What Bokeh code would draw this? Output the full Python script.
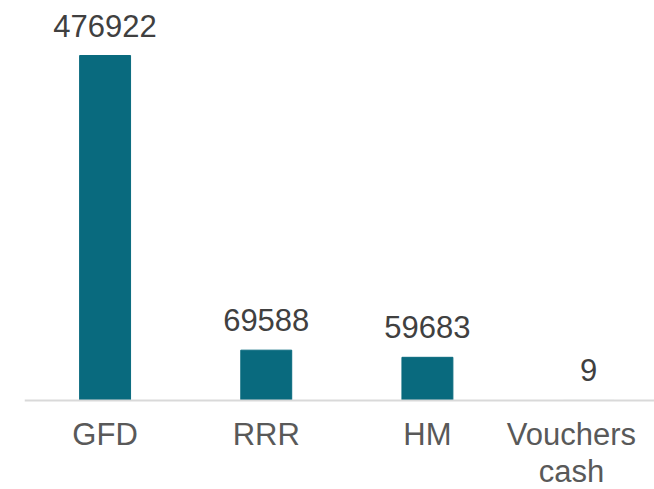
from bokeh.plotting import figure
from bokeh.models import Range1d, ColumnDataSource, LabelSet, FixedTicker
from bokeh.core.properties import value
from bokeh.embed import file_html
from bokeh.resources import INLINE

categories = ["GFD", "RRR", "HM", "Vouchers\ncash"]
values = [476922, 69588, 59683, 9]
labels = ["476922", "69588", "59683", "9"]

xs = list(range(len(categories)))
src = ColumnDataSource(dict(x=xs, top=values, lab=labels))

# tick positions: last label nudged left to stay inside the chart area
tick_pos = [float(x) for x in xs]
tick_pos[-1] -= 0.106

p = figure(width=654, height=489, output_backend="svg", toolbar_location=None,
           x_range=Range1d(-0.5, 3.409), y_range=Range1d(-123034, 552960),
           min_border_left=24, min_border_right=0, min_border_top=0, min_border_bottom=0)
p.vbar(x="x", top="top", width=0.316, bottom=0, source=src,
       fill_color="#096A7E", line_color="#096A7E")

lbl = LabelSet(x="x", y="top", text="lab", source=src, y_offset=19,
               text_align="center", text_baseline="alphabetic",
               text_font=value("Liberation Sans"), text_font_size="31px", text_color="#404040")
p.add_layout(lbl)

p.yaxis.visible = False
p.grid.visible = False
p.outline_line_color = None
p.xaxis.fixed_location = 0
p.xaxis.ticker = FixedTicker(ticks=tick_pos)
p.xaxis.major_label_overrides = {t: c for t, c in zip(tick_pos, categories)}
p.xaxis.major_tick_line_color = None
p.xaxis.minor_tick_line_color = None
p.xaxis.axis_line_color = "#d9d9d9"
p.xaxis.axis_line_width = 2
p.xaxis.major_label_text_font = "Liberation Sans"
p.xaxis.major_label_text_font_size = "31px"
p.xaxis.major_label_text_color = "#595959"
p.xaxis.major_label_standoff = 11
p.xaxis.major_label_text_line_height = 1.05

open("out.html", "w").write(file_html(p, INLINE))
